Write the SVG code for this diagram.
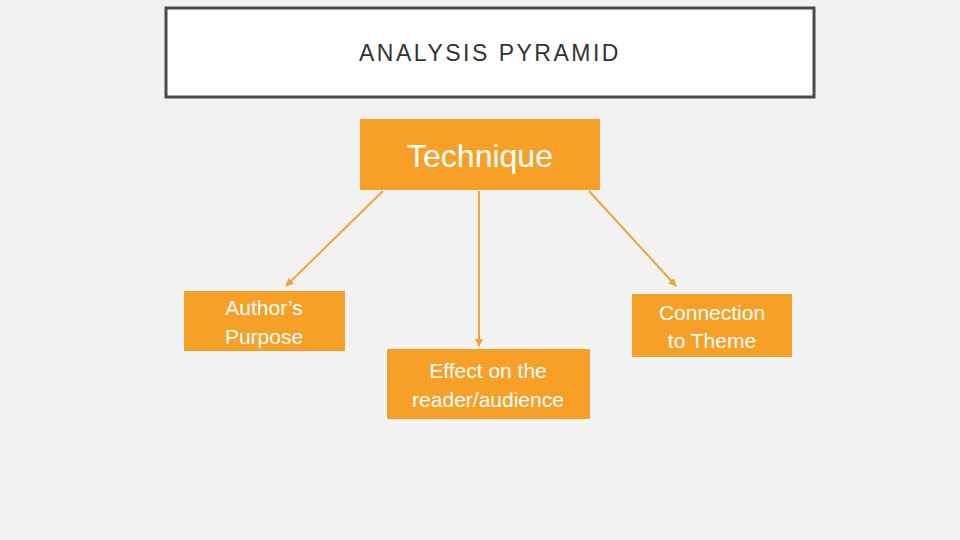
<svg xmlns="http://www.w3.org/2000/svg" width="960" height="540" viewBox="0 0 960 540">
<defs>
<style>
.box{fill:#f7a028}
.t{font-family:"Liberation Sans",Arial,sans-serif;fill:#fff;text-anchor:middle}
.c{stroke:#f2a336;stroke-width:2;fill:none;marker-end:url(#a)}
</style>
<marker id="a" viewBox="0 0 10 10" refX="9" refY="5" markerWidth="4" markerHeight="4" orient="auto"><path d="M0,0L10,5L0,10z" fill="#f2a336"/></marker>
</defs>
<rect width="960" height="540" fill="#f2f2f2"/>
<g id="title"><rect x="166" y="8" width="648" height="89" fill="#fff" stroke="#4a4a4a" stroke-width="3"/>
<text x="490" y="61" font-family="'Liberation Sans',Arial,sans-serif" font-size="23" letter-spacing="2.5" fill="#333" text-anchor="middle">ANALYSIS PYRAMID</text></g>
<g id="connectors">
<path class="c" d="M383,191L286,286"/>
<path class="c" d="M479,191L479,346"/>
<path class="c" d="M589,191L676,286"/>
</g>
<g id="technique"><rect class="box" x="360" y="119" width="240" height="71"/><text class="t" x="480" y="167" font-size="32">Technique</text></g>
<g id="author"><rect class="box" x="184" y="291" width="161" height="60"/><text class="t" x="264" y="315" font-size="21">Author’s</text><text class="t" x="264" y="344" font-size="21">Purpose</text></g>
<g id="effect"><rect class="box" x="387" y="349" width="203" height="70"/><text class="t" x="488" y="378" font-size="21">Effect on the</text><text class="t" x="488" y="407" font-size="21">reader/audience</text></g>
<g id="connection"><rect class="box" x="632" y="294" width="160" height="63"/><text class="t" x="712" y="320" font-size="21">Connection</text><text class="t" x="712" y="348" font-size="21">to Theme</text></g>
</svg>
